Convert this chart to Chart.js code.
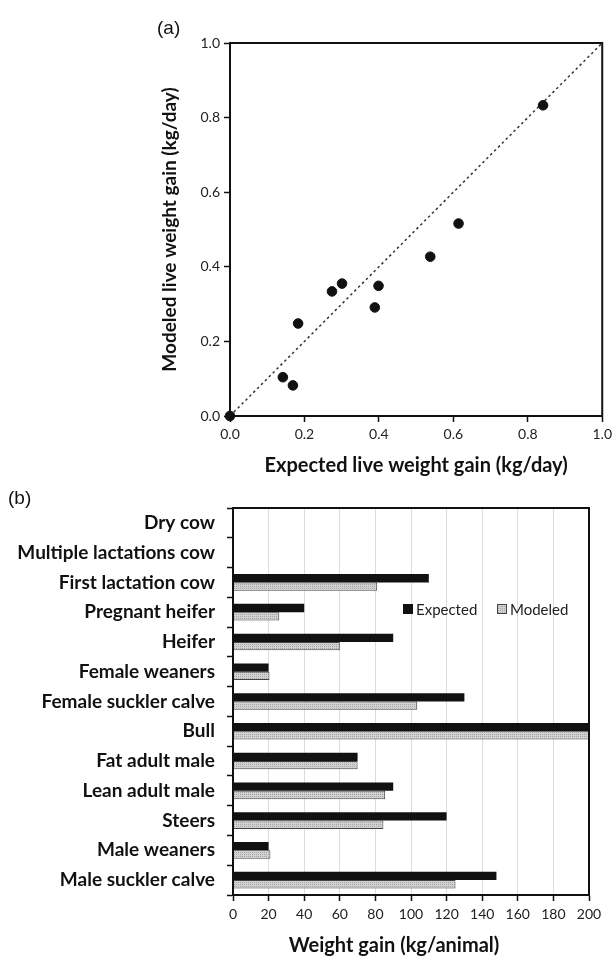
<!DOCTYPE html>
<html><head><meta charset="utf-8">
<script src="https://cdn.jsdelivr.net/npm/chart.js@4.4.1/dist/chart.umd.min.js"></script>
<style>
html,body{margin:0;padding:0;background:#fff;width:616px;height:956px;overflow:hidden}
#ca{position:absolute;left:0;top:0}
#cb{position:absolute;left:0;top:476px}
.lbl{position:absolute;font-family:"Liberation Sans",Arial,sans-serif;font-size:19px;color:#111;line-height:1}
</style></head><body>
<canvas id="ca" width="616" height="480"></canvas>
<canvas id="cb" width="616" height="480"></canvas>
<div class="lbl" style="left:157px;top:18px">(a)</div>
<div class="lbl" style="left:8px;top:488px">(b)</div>
<script>
// ---- Panel (a) data ----
const scatterExpected = [0, 0.142, 0.169, 0.183, 0.274, 0.301, 0.389, 0.399, 0.538, 0.614, 0.841];
const scatterModeled  = [0, 0.104, 0.082, 0.248, 0.334, 0.355, 0.291, 0.349, 0.427, 0.516, 0.833];
const identityLine = [0, 1];

// ---- Panel (b) data ----
const categories = ['Dry cow', 'Multiple lactations cow', 'First lactation cow', 'Pregnant heifer', 'Heifer',
  'Female weaners', 'Female suckler calve', 'Bull', 'Fat adult male', 'Lean adult male', 'Steers',
  'Male weaners', 'Male suckler calve'];
const expectedGain = [0, 0, 110, 40, 90, 20, 130, 200, 70, 90, 120, 20, 148];
const modeledGain  = [0, 0, 81, 26, 60, 20.5, 103.5, 200, 70, 85.5, 84.5, 21, 125];

const FONT = 'Lato';
const INK = '#111';

const boxPlugin = {
  id: 'box',
  afterDraw(chart) {
    const {ctx, chartArea: a} = chart;
    ctx.save();
    ctx.strokeStyle = INK; ctx.lineWidth = 2;
    ctx.strokeRect(a.left, a.top, a.right - a.left, a.bottom - a.top);
    ctx.restore();
  }
};

const insideLegend = {
  id: 'insideLegend',
  afterDraw(chart) {
    const {ctx, chartArea: a} = chart;
    let x = a.left + 170;
    const y = a.top + 101;
    ctx.save();
    ctx.font = '15px ' + FONT;
    ctx.textBaseline = 'middle';
    chart.data.datasets.forEach(ds => {
      ctx.fillStyle = ds.backgroundColor;
      ctx.fillRect(x, y - 5, 10, 10);
      ctx.strokeStyle = ds.borderColor; ctx.lineWidth = 1;
      ctx.strokeRect(x + 0.5, y - 4.5, 9, 9);
      ctx.fillStyle = '#222';
      ctx.fillText(ds.label, x + 13, y + 1);
      x += 94;
    });
    ctx.restore();
  }
};

function makePattern() {
  const c = document.createElement('canvas');
  c.width = 2; c.height = 2;
  const g = c.getContext('2d');
  g.fillStyle = '#d2d2d2'; g.fillRect(0, 0, 2, 2);
  g.fillStyle = '#a4a4a4'; g.fillRect(0, 0, 1, 1);
  return g.createPattern(c, 'repeat');
}

function draw() {
  const tickFont = {family: FONT, size: 14};

  new Chart(document.getElementById('ca'), {
    type: 'scatter',
    data: {
      datasets: [
        {type: 'line', data: identityLine.map(v => ({x: v, y: v})), borderColor: '#333', borderWidth: 1.5,
         borderDash: [2.5, 3], pointRadius: 0, fill: false, order: 2, clip: false},
        {data: scatterExpected.map((x, i) => ({x, y: scatterModeled[i]})), backgroundColor: INK, borderColor: INK,
         pointRadius: 4.8, order: 1, clip: false}
      ]
    },
    options: {
      responsive: false, animation: false, events: [],
      layout: {padding: {left: 0, top: 43, right: 13, bottom: 0}},
      plugins: {legend: {display: false}, tooltip: {enabled: false}},
      scales: {
        x: {
          type: 'linear', min: 0, max: 1,
          ticks: {stepSize: 0.2, callback: v => v.toFixed(1), font: tickFont, color: '#222', padding: 4, maxRotation: 0},
          grid: {drawOnChartArea: false, tickLength: 6, tickColor: INK, tickWidth: 1.5},
          border: {color: INK, width: 2},
          title: {display: true, text: 'Expected live weight gain (kg/day)', font: {family: FONT, size: 20, weight: 'bold'}, color: INK,
                  padding: {top: 0, bottom: 2}},
          afterFit: s => { s.height = 64; }
        },
        y: {
          type: 'linear', min: 0, max: 1,
          ticks: {stepSize: 0.2, callback: v => v.toFixed(1), font: tickFont, color: '#222', padding: 4},
          grid: {drawOnChartArea: false, tickLength: 6, tickColor: INK, tickWidth: 1.5},
          border: {color: INK, width: 2},
          title: {display: true, text: 'Modeled live weight gain (kg/day)', font: {family: FONT, size: 19, weight: 'bold'}, color: INK,
                  padding: {top: 158, bottom: 0}},
          afterFit: s => { s.width = 230; }
        }
      }
    },
    plugins: [boxPlugin]
  });

  new Chart(document.getElementById('cb'), {
    type: 'bar',
    data: {
      labels: categories,
      datasets: [
        {label: 'Expected', data: expectedGain, backgroundColor: INK, borderColor: INK, borderWidth: 0},
        {label: 'Modeled', data: modeledGain, backgroundColor: makePattern(), borderColor: '#444', borderWidth: 1}
      ]
    },
    options: {
      indexAxis: 'y', responsive: false, animation: false, events: [],
      datasets: {bar: {categoryPercentage: 0.56, barPercentage: 1}},
      layout: {padding: {left: 0, top: 32, right: 27, bottom: 0}},
      plugins: {legend: {display: false}, tooltip: {enabled: false}},
      scales: {
        x: {
          type: 'linear', min: 0, max: 200,
          ticks: {stepSize: 20, font: {family: FONT, size: 14}, color: '#222', padding: 5, maxRotation: 0},
          grid: {color: '#dcdcdc', lineWidth: 1, tickColor: INK, tickLength: 6, tickWidth: 1.5},
          border: {color: INK, width: 2},
          title: {display: true, text: 'Weight gain (kg/animal)       ', font: {family: FONT, size: 20, weight: 'bold', lineHeight: 1},
                  color: INK, padding: {top: 0, bottom: 0}},
          afterFit: s => { s.height = 61; }
        },
        y: {
          ticks: {font: {family: FONT, size: 19, weight: 'bold'}, color: INK, padding: 12},
          grid: {drawOnChartArea: false, offset: true, tickColor: INK, tickLength: 6, tickWidth: 1.5},
          border: {color: INK, width: 2},
          afterFit: s => { s.width = 233; }
        }
      }
    },
    plugins: [boxPlugin, insideLegend]
  });
}

if (document.fonts && document.fonts.load) {
  Promise.all([
    document.fonts.load('14px Lato'), document.fonts.load('bold 19px Lato')
  ]).then(draw, draw);
} else { draw(); }
</script>
</body></html>
